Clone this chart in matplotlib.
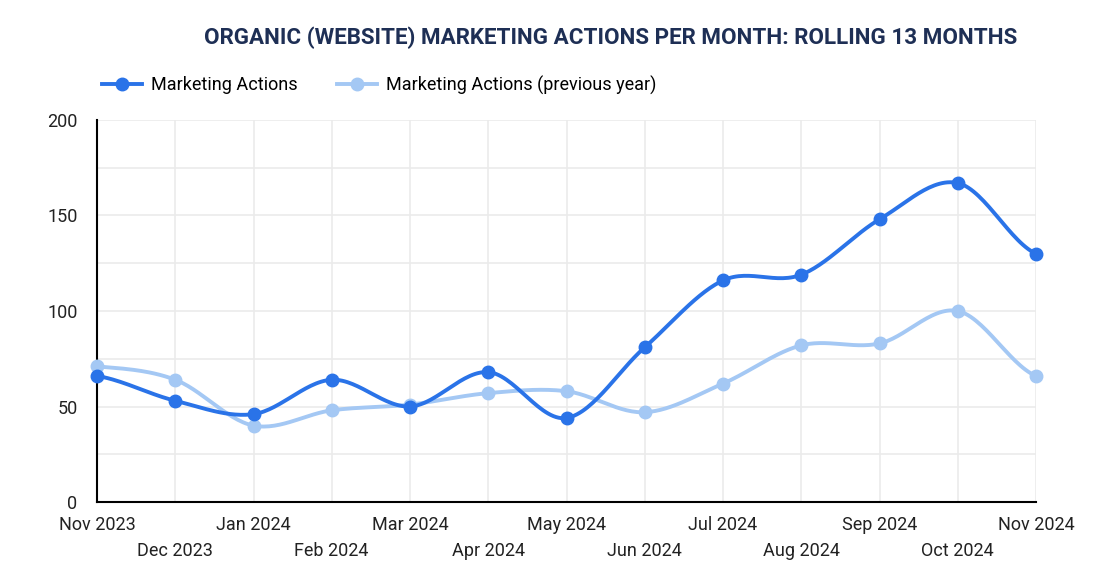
import matplotlib.pyplot as plt
import numpy as np

months = ["Nov 2023", "Dec 2023", "Jan 2024", "Feb 2024", "Mar 2024", "Apr 2024",
          "May 2024", "Jun 2024", "Jul 2024", "Aug 2024", "Sep 2024", "Oct 2024", "Nov 2024"]
actions = [66, 53, 46, 64, 50, 68, 44, 81, 116, 119, 148, 167, 130]
actions_prev = [71, 64, 40, 48, 51, 57, 58, 47, 62, 82, 83, 100, 66]

DARK = "#2a73e8"
LIGHT = "#a4c8f4"
TITLE = "#1e2f55"

plt.rcParams['font.family'] = ['Roboto', 'DejaVu Sans']


def smooth(xs, ys, n=30):
    # catmull-rom spline through the points, just for drawing the curve
    xs = np.asarray(xs, float)
    ys = np.asarray(ys, float)
    px = np.concatenate([[2 * xs[0] - xs[1]], xs, [2 * xs[-1] - xs[-2]]])
    py = np.concatenate([[ys[0]], ys, [ys[-1]]])
    out_x, out_y = [], []
    for i in range(1, len(px) - 2):
        t = np.linspace(0, 1, n, endpoint=False)
        for arr, p in ((out_x, px), (out_y, py)):
            p0, p1, p2, p3 = p[i - 1], p[i], p[i + 1], p[i + 2]
            arr.extend(0.5 * (2 * p1 + (-p0 + p2) * t + (2 * p0 - 5 * p1 + 4 * p2 - p3) * t ** 2
                              + (-p0 + 3 * p1 - 3 * p2 + p3) * t ** 3))
    out_x.append(xs[-1])
    out_y.append(ys[-1])
    return out_x, out_y


fig = plt.figure(figsize=(10.98, 5.86), dpi=100)
ax = fig.add_axes([97 / 1098, 1 - 502 / 586, (1036 - 97) / 1098, (502 - 120) / 586])

x = np.arange(len(months))
for ys, col, lab, z in ((actions_prev, LIGHT, "Marketing Actions (previous year)", 5),
                        (actions, DARK, "Marketing Actions", 6)):
    sx, sy = smooth(x, ys)
    ax.plot(sx, sy, color=col, lw=2.8, zorder=z, solid_capstyle='round', clip_on=False)
    ax.plot(x, ys, 'o', color=col, ms=9, zorder=z, clip_on=False)

ax.set_xlim(0, len(months) - 1)
ax.set_ylim(0, 200)
ax.set_yticks([0, 50, 100, 150, 200])
ax.set_yticks([25, 75, 125, 175], minor=True)
ax.set_xticks(x)
ax.set_xticklabels([m if i % 2 == 0 else "\n" + m for i, m in enumerate(months)],
                   linespacing=1.6)
ax.grid(True, which='both', color="#ebebeb", lw=1.2, zorder=0)
ax.set_axisbelow(True)
ax.tick_params(which='both', length=0, labelsize=13, colors="#222222")
ax.tick_params(axis='x', pad=10)
ax.tick_params(axis='y', pad=14)
for s in ("top", "right"):
    ax.spines[s].set_visible(False)
for s in ("left", "bottom"):
    ax.spines[s].set_color("black")
    ax.spines[s].set_linewidth(1.5)
    ax.spines[s].set_zorder(4)

fig.text(611 / 1098, 1 - 38 / 586, "ORGANIC (WEBSITE) MARKETING ACTIONS PER MONTH: ROLLING 13 MONTHS",
         ha='center', va='center', fontsize=16.1, fontweight='bold', color=TITLE)

handles = [plt.Line2D([], [], color=DARK, lw=2.8, marker='o', ms=9),
           plt.Line2D([], [], color=LIGHT, lw=2.8, marker='o', ms=9)]
fig.legend(handles, ["Marketing Actions", "Marketing Actions (previous year)"],
           loc='center left', bbox_to_anchor=(86 / 1098, 1 - 85 / 586), ncol=2,
           frameon=False, fontsize=13, handlelength=2.2, columnspacing=2.2, handletextpad=0.5)

fig.savefig("out.png", dpi=100)
